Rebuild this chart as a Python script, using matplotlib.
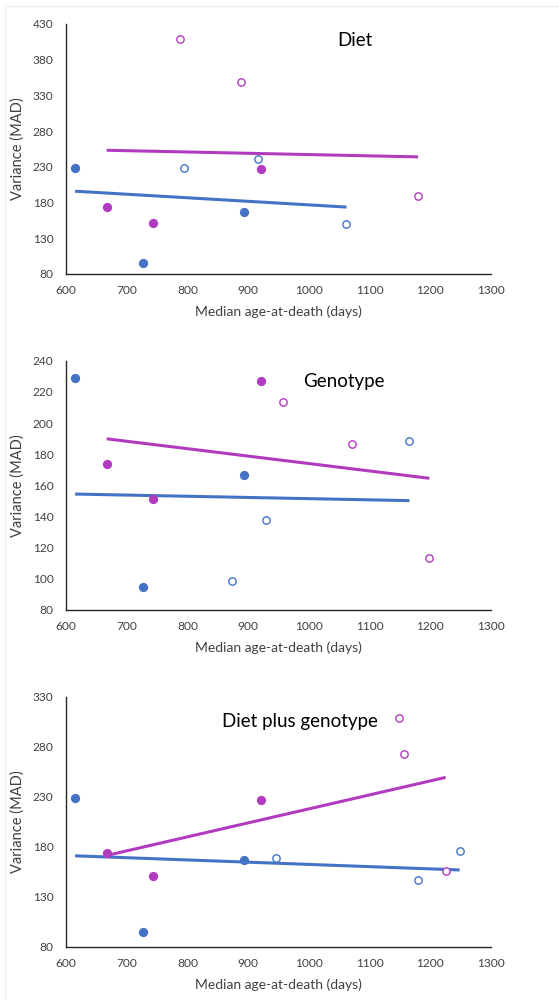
import numpy as np
import matplotlib
matplotlib.use('Agg')
import matplotlib.pyplot as plt
from matplotlib.lines import Line2D

plt.rcParams['font.family'] = ['Lato', 'DejaVu Sans']

BLUE = '#4472C4'
MAGENTA = '#B13BBF'

# filled points, same in every panel
blue_fill_x = [615, 726, 893]
blue_fill_y = [229, 95, 166.5]
mag_fill_x = [667, 743.5, 921.5]
mag_fill_y = [173.4, 151, 227]

# open points per panel
panel_titles = ['Diet', 'Genotype', 'Diet plus genotype']
blue_open_x = [[794, 917, 1062], [872.6, 928.6, 1165.6], [945.6, 1180.4, 1248.4]]
blue_open_y = [[229, 240.5, 150], [98.4, 137.8, 188.2], [169, 147, 176]]
mag_open_x = [[788, 889, 1180], [957, 1071.7, 1198.5], [1148.5, 1157.3, 1225.3]]
mag_open_y = [[408.5, 348.3, 189.7], [213.7, 186.7, 113.2], [308.3, 272.3, 155.7]]

y_ticks = [np.arange(80, 431, 50), np.arange(80, 241, 20), np.arange(80, 331, 50)]
x_ticks = np.arange(600, 1301, 100)

# axes boxes in pixels: top, bottom
ax_rows = [(24, 274), (360.7, 610), (696.7, 946.7)]
title_pos = [(355, 40.7), (344, 382), (300, 721.7)]

W, H = 559, 1000
fig = plt.figure(figsize=(W / 100, H / 100), dpi=100)

for i in range(3):
    top, bot = ax_rows[i]
    ax = fig.add_axes([66 / W, 1 - bot / H, 425 / W, (bot - top) / H])

    bx = np.array(blue_fill_x + blue_open_x[i])
    by = np.array(blue_fill_y + blue_open_y[i])
    mx = np.array(mag_fill_x + mag_open_x[i])
    my = np.array(mag_fill_y + mag_open_y[i])

    # linear trend lines over each colour's range
    for xs, ys, c in [(bx, by, BLUE), (mx, my, MAGENTA)]:
        k, b = np.polyfit(xs, ys, 1)
        lx = np.array([xs.min(), xs.max()])
        ax.plot(lx, k * lx + b, color=c, lw=2.2, solid_capstyle='butt', zorder=2)

    ax.scatter(blue_fill_x, blue_fill_y, s=32, color=BLUE, zorder=3)
    ax.scatter(mag_fill_x, mag_fill_y, s=32, color=MAGENTA, zorder=3)
    ax.scatter(blue_open_x[i], blue_open_y[i], s=28, facecolor='white',
               edgecolor=BLUE, linewidth=1.0, zorder=3)
    ax.scatter(mag_open_x[i], mag_open_y[i], s=28, facecolor='white',
               edgecolor=MAGENTA, linewidth=1.0, zorder=3)

    ax.set_xlim(600, 1300)
    ax.set_ylim(y_ticks[i][0], y_ticks[i][-1])
    ax.set_xticks(x_ticks)
    ax.set_yticks(y_ticks[i])
    ax.tick_params(length=0, labelsize=8.6, colors='#404040', pad=8)
    ax.tick_params(axis='y', pad=9)
    for s in ['top', 'right']:
        ax.spines[s].set_visible(False)
    for s in ['left', 'bottom']:
        ax.spines[s].set_color('#262626')
        ax.spines[s].set_linewidth(1.0)
    ax.set_xlabel('Median age-at-death (days)', fontsize=10, color='#404040', labelpad=7)
    ax.set_ylabel('Variance (MAD)', fontsize=10.5, color='#404040', labelpad=6)
    ax.patch.set_alpha(0)

    tx, ty = title_pos[i]
    fig.text(tx / W, 1 - ty / H, panel_titles[i], fontsize=13.5, color='black',
             ha='center', va='center')

# faint chart border remnants
fig.add_artist(Line2D([5 / W, 5 / W], [0, 1 - 6 / H], color='#eeeeee', lw=0.8))
fig.add_artist(Line2D([5 / W, 1], [1 - 6 / H, 1 - 6 / H], color='#eeeeee', lw=0.8))

fig.savefig('out.png', dpi=100)
